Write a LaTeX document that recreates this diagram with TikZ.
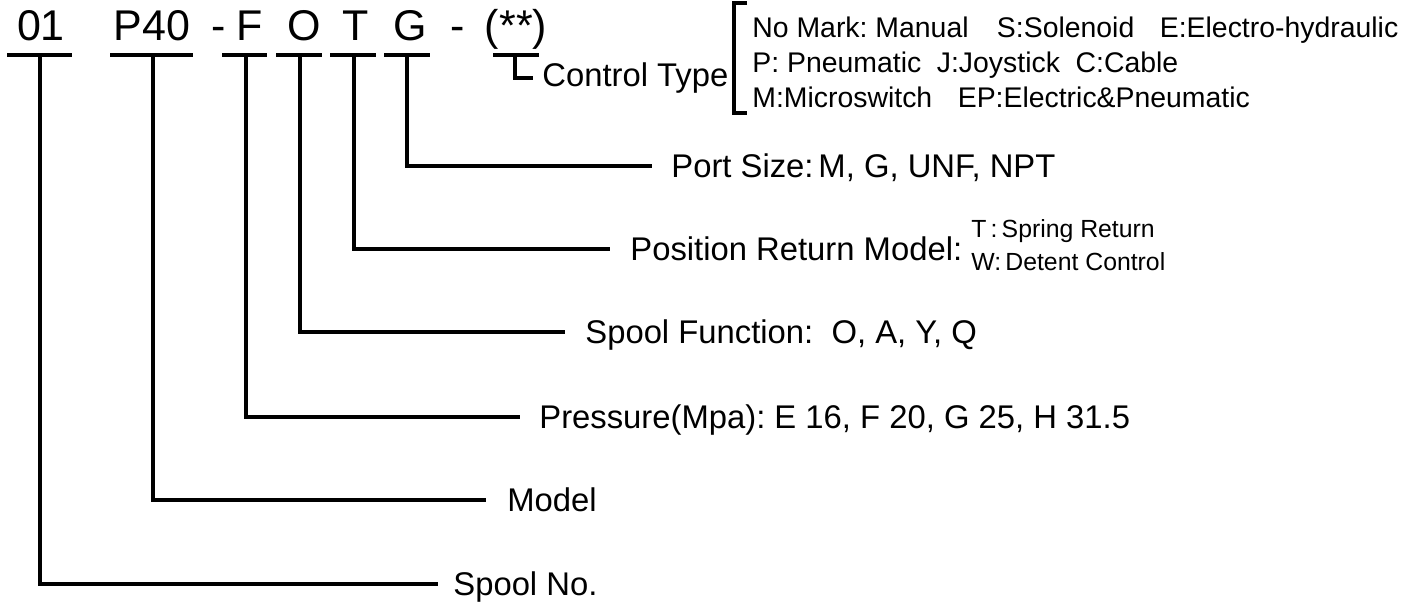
\documentclass[tikz,border=0pt]{standalone}
\usepackage{fontspec}
\setmainfont{Liberation Sans}
\frenchspacing
\begin{document}
\frenchspacing
\begin{tikzpicture}[x=0.5pt,y=-0.5pt,
  ln/.style={line width=2pt},
  code/.style={font=\fontsize{21.5}{24}\selectfont, anchor=base, inner sep=0pt},
  lbl/.style={font=\fontsize{16.4}{19}\selectfont, anchor=base west, inner sep=0pt},
  opt/.style={font=\fontsize{14.2}{16}\selectfont, anchor=base west, inner sep=0pt},
  small/.style={font=\fontsize{12.4}{14}\selectfont, anchor=base west, inner sep=0pt}]
\useasboundingbox (0,0) rectangle (1416,602);
\fill[white] (0,0) rectangle (1416,602);

% code letters
\node[code] (c01) at (41,40) {01};
\node[code] (cP)  at (152,40) {P40};
\node[code] (d1)  at (219,40) {-};
\node[code] (cF)  at (250,40) {F};
\node[code] (cO)  at (304,40) {O};
\node[code] (cT)  at (356,40) {T};
\node[code] (cG)  at (410,40) {G};
\node[code] (d2)  at (458,40) {-};
\node[code] (cC)  at (516,40) {(**)};

% underline bars
\draw[ln] (7,55) -- (72,55);
\draw[ln] (110,55) -- (193,55);
\draw[ln] (222,55) -- (267,55);
\draw[ln] (276,55) -- (322,55);
\draw[ln] (330,55) -- (376,55);
\draw[ln] (384,55) -- (430,55);

% branch coordinates
\coordinate (t01) at (40,55);   \coordinate (e01) at (438,584);
\coordinate (tP)  at (153,55);  \coordinate (eP)  at (486,500);
\coordinate (tF)  at (246,55);  \coordinate (eF)  at (520,417);
\coordinate (tO)  at (300,55);  \coordinate (eO)  at (565,332);
\coordinate (tT)  at (354,55);  \coordinate (eT)  at (610,249);
\coordinate (tG)  at (407,55);  \coordinate (eG)  at (652,166);

\draw[ln] (t01) |- (e01);
\draw[ln] (tP) |- (eP);
\draw[ln] (tF) |- (eF);
\draw[ln] (tO) |- (eO);
\draw[ln] (tT) |- (eT);
\draw[ln] (tG) |- (eG);

% labels
\node[lbl] (lSpool) at (453,595.5) {Spool No.};
\node[lbl] (lModel) at (507,511.5) {Model};
\node[lbl] (lPress) at (539,428.5) {Pressure(Mpa): E 16, F 20, G 25, H 31.5};
\node[lbl] (lFunc)  at (585,343.5) {Spool Function:~~O, A, Y, Q};
\node[lbl] (lPos)   at (630,260.5) {Position Return Model:};
\node[small] (lT)   at (971,237) {T\,:\,Spring Return};
\node[small] (lW)   at (971,270) {W:\,Detent Control};
\node[lbl] (lPort)  at (671,177.5) {Port Size:\hspace{0.15em}M, G, UNF, NPT};

% control type
\coordinate (ctl) at (493,55); \coordinate (ctr) at (539,55);
\coordinate (ctm) at (515,55); \coordinate (ctf) at (533,78);
\draw[line width=1.8pt] (ctl) -- (ctr);
\draw[line width=1.8pt] (ctm) |- (ctf);
\node[lbl] (lCtrl) at (542,86) {Control Type};

% bracket
\coordinate (bt) at (747,3); \coordinate (bb) at (747,113);
\draw[line width=2pt] (bt) -| (734,113) -- (bb);

\node[opt] (o1) at (752,37) {No Mark: Manual\hspace{1em}S:Solenoid\hspace{0.9em}E:Electro-hydraulic};
\node[opt] (o2) at (752,72) {P: Pneumatic\hspace{0.55em}J:Joystick\hspace{0.55em}C:Cable};
\node[opt] (o3) at (752,107) {M:Microswitch\hspace{0.9em}EP:Electric\&Pneumatic};
\end{tikzpicture}
\end{document}
